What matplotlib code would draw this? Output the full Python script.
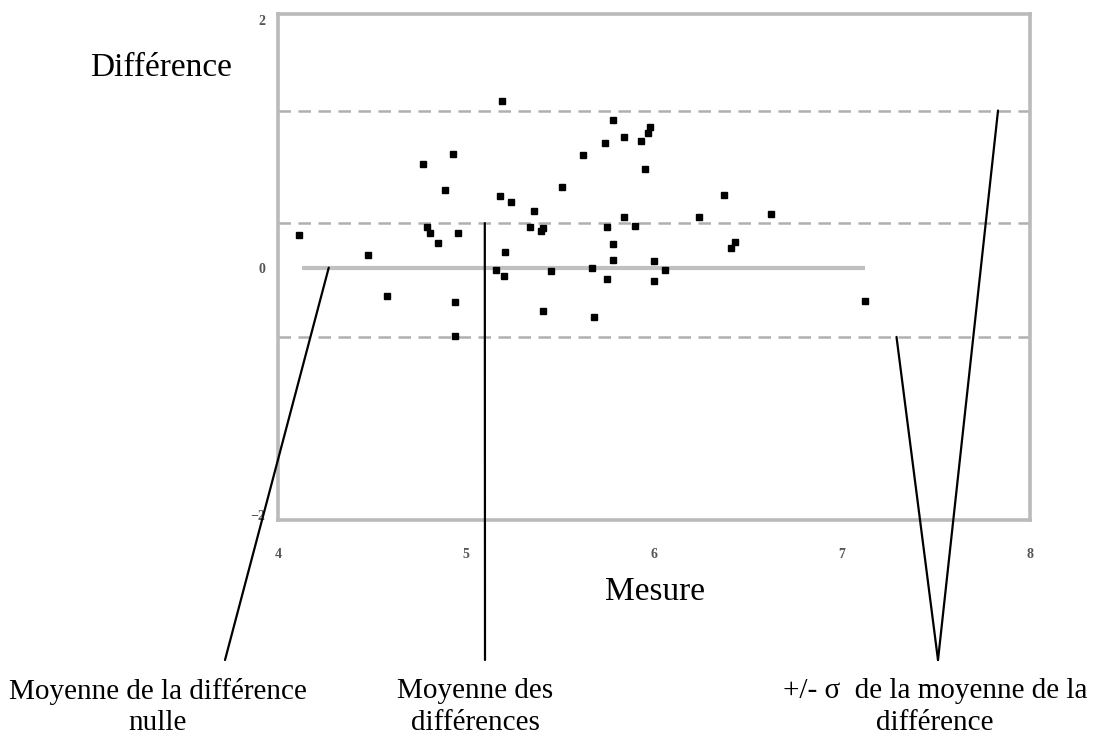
import matplotlib.pyplot as plt

# Bland-Altman style scatter: mesure vs différence
mesure = [
    4.11, 4.48, 4.58, 4.77, 4.79, 4.81, 4.85, 4.89, 4.93, 4.94,
    4.94, 4.96, 5.16, 5.18, 5.19, 5.20, 5.21, 5.24, 5.34, 5.36,
    5.40, 5.41, 5.41, 5.45, 5.51, 5.62, 5.67, 5.68, 5.74, 5.75,
    5.75, 5.78, 5.78, 5.78, 5.84, 5.84, 5.90, 5.93, 5.95, 5.97,
    5.98, 6.00, 6.00, 6.06, 6.24, 6.37, 6.41, 6.43, 6.62, 7.12,
]
difference = [
    0.26, 0.10, -0.23, 0.84, 0.33, 0.28, 0.20, 0.63, 0.92, -0.28,
    -0.55, 0.28, -0.02, 0.58, 1.35, -0.07, 0.13, 0.53, 0.33, 0.46,
    0.30, 0.32, -0.35, -0.03, 0.65, 0.91, 0.00, -0.40, 1.01, 0.33,
    -0.09, 1.19, 0.19, 0.06, 1.06, 0.41, 0.34, 1.02, 0.80, 1.09,
    1.14, 0.05, -0.11, -0.02, 0.41, 0.59, 0.16, 0.21, 0.43, -0.27,
]

mean_diff = 0.36
upper_sd = 1.27
lower_sd = -0.56
zero_line_span = [4.13, 7.12]

x_ticks = [4, 5, 6, 7, 8]
y_ticks = [-2, 0, 2]

labels = [
    "Moyenne de la différence\nnulle",
    "Moyenne des\ndifférences",
    "+/- σ  de la moyenne de la\ndifférence",
]
# where each pointer leaves the chart (x in data units, y = the line it points to)
pointer_x = [4.27, 5.10, 7.29, 7.83]
pointer_y = [0.0, mean_diff, lower_sd, upper_sd]
pointer_label = [0, 1, 2, 2]

SERIF = ["Liberation Serif", "DejaVu Serif"]


def main() -> None:
    fig = plt.figure(figsize=(11.01, 7.40), dpi=100)
    ax = fig.add_axes([0.2525, 0.2973, 0.683, 0.6837])

    ax.hlines(0.0, zero_line_span[0], zero_line_span[1], color="#c0c0c0", lw=3, zorder=1)
    for level in [upper_sd, mean_diff, lower_sd]:
        ax.axhline(level, color="#b0b0b0", lw=1.8, ls=(0, (5, 3)), zorder=1)

    ax.plot(mesure, difference, ls="none", marker="s", ms=4.8, color="black", mec="black", zorder=3)

    ax.set_xlim(4, 8)
    ax.set_ylim(-2.04, 2.05)
    ax.set_xticks(x_ticks)
    ax.set_yticks(y_ticks)
    ax.tick_params(length=0, labelsize=10, labelcolor="#555555")
    ax.tick_params(axis="x", pad=20)
    ax.tick_params(axis="y", pad=9)
    for lab in ax.get_xticklabels() + ax.get_yticklabels():
        lab.set_family(SERIF)
        lab.set_fontweight("bold")
    for spine in ax.spines.values():
        spine.set_color("#bababa")
        spine.set_linewidth(2.6)

    fig.text(161 / 1101, 1 - 68 / 740, "Différence", family=SERIF, fontsize=24, ha="center", va="center")
    fig.text(655 / 1101, 1 - 592 / 740, "Mesure", family=SERIF, fontsize=24, ha="center", va="center")

    # pointer ends and label centres, in figure fraction
    ends = [(225 / 1101, 1 - 660 / 740), (485 / 1101, 1 - 660 / 740), (938 / 1101, 1 - 660 / 740)]
    centres = [(158 / 1101, 1 - 707 / 740), (475 / 1101, 1 - 707 / 740), (935 / 1101, 1 - 707 / 740)]

    for x, y, idx in zip(pointer_x, pointer_y, pointer_label):
        ax.annotate(
            "",
            xy=(x, y),
            xycoords="data",
            xytext=ends[idx],
            textcoords="figure fraction",
            arrowprops=dict(arrowstyle="-", color="black", lw=1.6, shrinkA=0, shrinkB=0),
            annotation_clip=False,
        )

    for text, (cx, cy) in zip(labels, centres):
        fig.text(cx, cy, text, family=SERIF, fontsize=21, ha="center", va="center",
                 multialignment="center", linespacing=1.25)

    fig.savefig("out.png", dpi=100)
    plt.close(fig)


if __name__ == "__main__":
    main()
